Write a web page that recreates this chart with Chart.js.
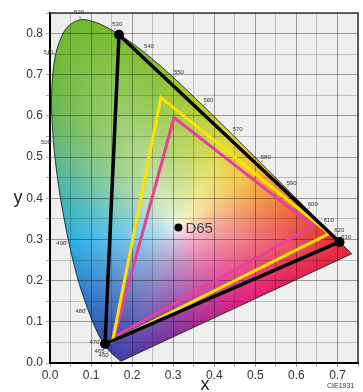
<!DOCTYPE html>
<html>
<head>
<meta charset="utf-8">
<script src="https://cdn.jsdelivr.net/npm/chart.js@4.4.1/dist/chart.umd.min.js"></script>
<style>
  html, body { margin: 0; padding: 0; background: #fff; }
  #box { width: 363px; height: 392px; }
</style>
</head>
<body>
<div id="box"><canvas id="myChart"></canvas></div>
<script>
// CIE 1931 2 deg spectral locus, 380-700 nm
const locusNm = [380,385,390,395,400,405,410,415,420,425,430,435,440,445,450,455,460,465,470,475,480,485,490,495,500,505,510,515,520,525,530,535,540,545,550,555,560,565,570,575,580,585,590,595,600,605,610,615,620,625,630,635,640,645,650,655,660,665,670,675,680,685,690,695,700];
const locusX = [0.1741,0.1740,0.1738,0.1736,0.1733,0.1730,0.1726,0.1721,0.1714,0.1703,0.1689,0.1669,0.1644,0.1611,0.1566,0.1510,0.1440,0.1355,0.1241,0.1096,0.0913,0.0687,0.0454,0.0235,0.0082,0.0039,0.0139,0.0389,0.0743,0.1142,0.1547,0.1929,0.2296,0.2658,0.3016,0.3373,0.3731,0.4087,0.4441,0.4788,0.5125,0.5448,0.5752,0.6029,0.6270,0.6482,0.6658,0.6801,0.6915,0.7006,0.7079,0.7140,0.7190,0.7230,0.7260,0.7283,0.7300,0.7311,0.7320,0.7327,0.7334,0.7340,0.7344,0.7346,0.7347];
const locusY = [0.0050,0.0050,0.0049,0.0049,0.0048,0.0048,0.0048,0.0048,0.0051,0.0058,0.0069,0.0086,0.0109,0.0138,0.0177,0.0227,0.0297,0.0399,0.0578,0.0868,0.1327,0.2007,0.2950,0.4127,0.5384,0.6548,0.7502,0.8120,0.8338,0.8262,0.8059,0.7816,0.7543,0.7243,0.6923,0.6589,0.6245,0.5896,0.5547,0.5202,0.4866,0.4544,0.4242,0.3965,0.3725,0.3514,0.3340,0.3197,0.3083,0.2993,0.2920,0.2859,0.2809,0.2770,0.2740,0.2717,0.2700,0.2689,0.2680,0.2673,0.2666,0.2660,0.2656,0.2654,0.2653];

const labelNm = [460,465,470,480,490,500,510,520,530,540,550,560,570,580,590,600,610,620,630];

// gamut triangles, R G B
const wideX = [0.705, 0.168, 0.134];
const wideY = [0.294, 0.797, 0.046];
const p3X = [0.680, 0.270, 0.152];
const p3Y = [0.314, 0.645, 0.052];
const srgbX = [0.641, 0.302, 0.156];
const srgbY = [0.332, 0.596, 0.063];

const whiteX = [0.3127];
const whiteY = [0.3290];
const whiteName = 'D65';

// colours at the edge of the horseshoe (by wavelength, then along the purple line)
const edgeNm = [460, 475, 485, 490, 495, 500, 505, 510, 520, 540, 555, 570, 580, 590, 600, 620, 700];
const edgeRgb = [[55,65,170],[50,95,185],[45,140,210],[40,175,228],[70,180,175],[100,185,120],[106,185,72],[110,185,55],[112,184,45],[128,190,45],[165,200,50],[220,215,55],[240,190,50],[240,140,45],[235,95,45],[230,50,48],[228,35,55]];
const purpleT = [0.42, 0.65, 0.82, 1.0];
const purpleRgb = [[228,30,120],[175,42,145],[120,50,158],[70,60,170]];

function tickText(v) {
  const k = Math.round(v * 20);
  return k % 2 === 0 ? (k / 20).toFixed(1) : '';
}
function gridColour(c) {
  if (!c.tick) return 'rgba(0,0,0,0.25)';
  return Math.round(c.tick.value * 20) % 2 === 0 ? 'rgba(0,0,0,0.36)' : 'rgba(0,0,0,0.2)';
}

// edge colour stops by angle around white point
const stops = [];
edgeNm.forEach((nm, i) => {
  const k = locusNm.indexOf(nm);
  stops.push({a: Math.atan2(locusY[k] - whiteY[0], locusX[k] - whiteX[0]), c: edgeRgb[i]});
});
const last = locusX.length - 1;
purpleT.forEach((t, i) => {
  const px = locusX[last] + (locusX[0] - locusX[last]) * t;
  const py = locusY[last] + (locusY[0] - locusY[last]) * t;
  stops.push({a: Math.atan2(py - whiteY[0], px - whiteX[0]), c: purpleRgb[i]});
});
stops.sort((p, q) => p.a - q.a);

function edgeColour(a) {
  const n = stops.length;
  if (a < stops[0].a || a >= stops[n - 1].a) {
    const s0 = stops[n - 1], s1 = stops[0];
    const a0 = s0.a, a1 = s1.a + 2 * Math.PI;
    const aa = a < stops[0].a ? a + 2 * Math.PI : a;
    const f = (aa - a0) / (a1 - a0);
    return s0.c.map((v, k) => v + (s1.c[k] - v) * f);
  }
  for (let i = 0; i < n - 1; i++) {
    const s0 = stops[i], s1 = stops[i + 1];
    if (a >= s0.a && a <= s1.a) {
      const f = (a - s0.a) / (s1.a - s0.a);
      return s0.c.map((v, k) => v + (s1.c[k] - v) * f);
    }
  }
  return stops[0].c;
}

const NB = 1440;
function reachTable() {
  const out = new Float32Array(NB);
  const m = locusX.length;
  for (let b = 0; b < NB; b++) {
    const t = -Math.PI + ((b + 0.5) / NB) * 2 * Math.PI;
    const ux = Math.cos(t), uy = Math.sin(t);
    let best = Infinity;
    for (let i = 0; i < m; i++) {
      const j = (i + 1) % m;
      const ax = locusX[i] - whiteX[0], ay = locusY[i] - whiteY[0];
      const ex = locusX[j] - locusX[i], ey = locusY[j] - locusY[i];
      const den = ux * ey - uy * ex;
      if (Math.abs(den) < 1e-12) continue;
      const r = (ax * ey - ay * ex) / den;
      const q = (ax * uy - ay * ux) / den;
      if (r > 0 && q >= -1e-9 && q <= 1 + 1e-9 && r < best) best = r;
    }
    out[b] = isFinite(best) ? best : 1;
  }
  return out;
}
const reach = reachTable();

function colourAt(vx, vy) {
  const dx = vx - whiteX[0], dy = vy - whiteY[0];
  const a = Math.atan2(dy, dx);
  let b = Math.floor((a + Math.PI) / (2 * Math.PI) * NB);
  if (b >= NB) b = NB - 1;
  const s = Math.min(1, Math.hypot(dx, dy) / reach[b]);
  const f = Math.pow(s, 0.6);
  const e = edgeColour(a);
  const w = [252, 252, 247];
  return [w[0] + (e[0] - w[0]) * f, w[1] + (e[1] - w[1]) * f, w[2] + (e[2] - w[2]) * f];
}

function paintLocus(chart) {
  const {chartArea: area, scales: {x, y}} = chart;
  const w = Math.ceil(area.right - area.left), h = Math.ceil(area.bottom - area.top);
  const cv = document.createElement('canvas');
  cv.width = w; cv.height = h;
  const g = cv.getContext('2d');
  const img = g.createImageData(w, h);
  for (let j = 0; j < h; j++) {
    const vy = y.getValueForPixel(area.top + j + 0.5);
    for (let i = 0; i < w; i++) {
      const vx = x.getValueForPixel(area.left + i + 0.5);
      const c = colourAt(vx, vy);
      const k = (j * w + i) * 4;
      img.data[k] = c[0]; img.data[k + 1] = c[1]; img.data[k + 2] = c[2]; img.data[k + 3] = 255;
    }
  }
  g.putImageData(img, 0, 0);
  return cv;
}

const fillPlugin = {
  id: 'locusFill',
  beforeDraw(chart) {
    const {ctx, chartArea: area} = chart;
    ctx.save();
    ctx.fillStyle = '#efefef';
    ctx.fillRect(area.left, area.top, area.right - area.left, area.bottom - area.top);
    if (!chart.$locusImg) chart.$locusImg = paintLocus(chart);
    // clip to the same smoothed outline the locus dataset draws
    const line = chart.getDatasetMeta(0).dataset;
    line.updateControlPoints(area, 'x');
    ctx.beginPath();
    line.path(ctx);
    ctx.closePath();
    ctx.clip();
    ctx.drawImage(chart.$locusImg, area.left, area.top);
    ctx.restore();
  }
};

const textPlugin = {
  id: 'texts',
  afterDraw(chart) {
    const {ctx, chartArea: area, scales: {x, y}} = chart;
    ctx.save();
    // top and right frame
    ctx.strokeStyle = '#333';
    ctx.lineWidth = 1.5;
    ctx.beginPath();
    ctx.moveTo(area.left, area.top);
    ctx.lineTo(area.right, area.top);
    ctx.lineTo(area.right, area.bottom);
    ctx.stroke();

    // wavelength marks
    const wpx = x.getPixelForValue(whiteX[0]), wpy = y.getPixelForValue(whiteY[0]);
    ctx.font = '6px "Liberation Sans"';
    ctx.fillStyle = '#333';
    ctx.strokeStyle = '#444';
    ctx.lineWidth = 0.6;
    ctx.textAlign = 'center';
    ctx.textBaseline = 'middle';
    labelNm.forEach(nm => {
      const k = locusNm.indexOf(nm);
      const px = x.getPixelForValue(locusX[k]), py = y.getPixelForValue(locusY[k]);
      const tx = x.getPixelForValue(locusX[k + 1]) - x.getPixelForValue(locusX[k - 1]);
      const ty = y.getPixelForValue(locusY[k + 1]) - y.getPixelForValue(locusY[k - 1]);
      const len = Math.hypot(tx, ty);
      let nx = ty / len, ny = -tx / len;
      if (nx * (px - wpx) + ny * (py - wpy) < 0) { nx = -nx; ny = -ny; }
      ctx.beginPath();
      ctx.moveTo(px + nx, py + ny);
      ctx.lineTo(px + nx * 3.5, py + ny * 3.5);
      ctx.stroke();
      ctx.fillText(String(nm), px + nx * 7.5, py + ny * 7.5);
    });

    // white point name
    ctx.font = '15px "Liberation Sans"';
    ctx.fillStyle = '#444';
    ctx.textAlign = 'left';
    ctx.fillText(whiteName, wpx + 7, wpy + 1);

    // axis titles
    ctx.font = '18px "Liberation Sans"';
    ctx.fillStyle = '#222';
    ctx.textAlign = 'center';
    ctx.fillText('y', 18, 198);
    ctx.fillText('x', (area.left + area.right) / 2 + 1, 385);

    ctx.font = '7px "Liberation Sans"';
    ctx.fillStyle = '#333';
    ctx.textAlign = 'left';
    ctx.fillText('CIE1931', 327, 386);
    ctx.restore();
  }
};

const locusPts = locusX.map((v, i) => ({x: v, y: locusY[i]}));
locusPts.push(locusPts[0]);
function tri(xs, ys) {
  const p = xs.map((v, i) => ({x: v, y: ys[i]}));
  p.push(p[0]);
  return p;
}

const axisFont = {family: 'Liberation Sans', size: 12};

new Chart(document.getElementById('myChart'), {
  type: 'scatter',
  data: {
    datasets: [
      {label: 'locus', data: locusPts, showLine: true, tension: 0.3, borderColor: 'rgba(20,30,20,0.85)', borderWidth: 1, pointRadius: 0, order: 10},
      {label: 'sRGB', data: tri(srgbX, srgbY), showLine: true, borderColor: '#e8409a', borderWidth: 3, borderJoinStyle: 'miter', pointRadius: 0, order: 3},
      {label: 'P3', data: tri(p3X, p3Y), showLine: true, borderColor: '#ffe200', borderWidth: 3, borderJoinStyle: 'miter', pointRadius: 0, order: 2},
      {label: 'Rec.2020', data: tri(wideX, wideY), showLine: true, borderColor: '#000', borderWidth: 3.5, borderJoinStyle: 'miter', pointRadius: [5, 5, 5, 0], pointBackgroundColor: '#000', pointBorderWidth: 0, order: 1},
      {label: whiteName, data: [{x: whiteX[0], y: whiteY[0]}], pointRadius: 4, pointBackgroundColor: '#000', pointBorderWidth: 0, order: 0}
    ]
  },
  options: {
    responsive: true,
    maintainAspectRatio: false,
    animation: false,
    layout: {padding: {top: 13, right: 4, left: 0, bottom: 0}},
    plugins: {legend: {display: false}, tooltip: {enabled: false}},
    scales: {
      x: {
        type: 'linear', min: 0, max: 0.75,
        afterFit: s => { s.height = 29; },
        ticks: {stepSize: 0.05, callback: tickText, autoSkip: false, maxRotation: 0, padding: 1, color: '#333', font: axisFont},
        grid: {color: gridColour, tickColor: 'rgba(0,0,0,0.35)', tickLength: 4},
        border: {color: '#000', width: 2}
      },
      y: {
        type: 'linear', min: 0, max: 0.85,
        afterFit: s => { s.width = 50; },
        ticks: {stepSize: 0.05, callback: tickText, autoSkip: false, padding: 3, color: '#333', font: axisFont},
        grid: {color: gridColour, tickColor: 'rgba(0,0,0,0.35)', tickLength: 4},
        border: {color: '#000', width: 2}
      }
    }
  },
  plugins: [fillPlugin, textPlugin]
});
</script>
</body>
</html>
